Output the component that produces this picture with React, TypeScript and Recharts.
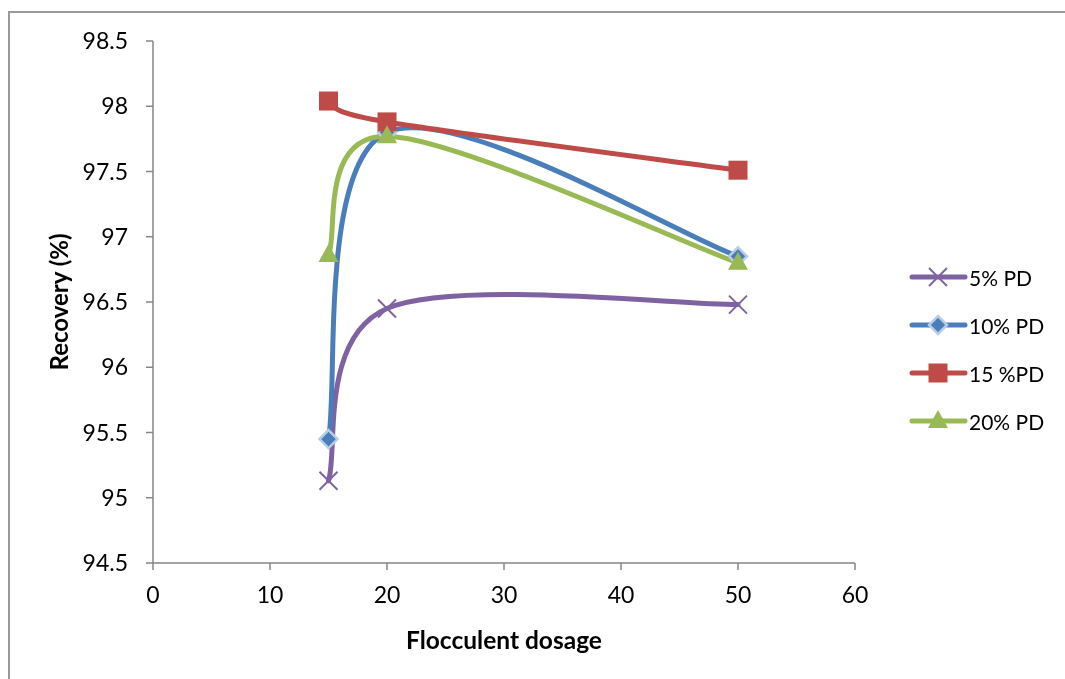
import React from 'react';
import { LineChart, Line, XAxis, YAxis, Legend, Label } from 'recharts';

// dosage (x) and recovery (%) for each pulp density
const dosage = [15, 20, 50];
const pd5 = [95.13, 96.45, 96.48];
const pd10 = [95.45, 97.8, 96.85];
const pd15 = [98.04, 97.88, 97.51];
const pd20 = [96.86, 97.77, 96.8];

const xTicks = [0, 10, 20, 30, 40, 50, 60];
const yTicks = [94.5, 95, 95.5, 96, 96.5, 97, 97.5, 98, 98.5];

const seriesNames = ['5% PD', '10% PD', '15 %PD', '20% PD'];
const seriesKeys = ['pd5', 'pd10', 'pd15', 'pd20'];
const seriesColors = ['#7F62A1', '#4A7EBB', '#BE4B48', '#98B954'];

const data = dosage.map((x, i) => ({
  x,
  pd5: pd5[i],
  pd10: pd10[i],
  pd15: pd15[i],
  pd20: pd20[i],
}));

const FONT = 'Lato, "Open Sans", sans-serif';
const AXIS = '#868686';

// smoothed line like excel's (cardinal bezier through the points)
function smoothCurve(context: any) {
  let pts: number[][] = [];
  return {
    areaStart() {},
    areaEnd() {},
    lineStart() {
      pts = [];
    },
    point(x: number, y: number) {
      pts.push([+x, +y]);
    },
    lineEnd() {
      const n = pts.length;
      if (!n) return;
      context.moveTo(pts[0][0], pts[0][1]);
      for (let i = 0; i < n - 1; i++) {
        const p0 = pts[Math.max(i - 1, 0)];
        const p1 = pts[i];
        const p2 = pts[i + 1];
        const p3 = pts[Math.min(i + 2, n - 1)];
        context.bezierCurveTo(
          p1[0] + (p2[0] - p0[0]) / 6,
          p1[1] + (p2[1] - p0[1]) / 6,
          p2[0] - (p3[0] - p1[0]) / 6,
          p2[1] - (p3[1] - p1[1]) / 6,
          p2[0],
          p2[1]
        );
      }
    },
  };
}

function Marker({ kind, cx, cy }: { kind: number; cx: number; cy: number }) {
  if (kind === 0) {
    return (
      <g stroke={seriesColors[0]} strokeWidth={2}>
        <line x1={cx - 9} y1={cy - 9} x2={cx + 9} y2={cy + 9} />
        <line x1={cx - 9} y1={cy + 9} x2={cx + 9} y2={cy - 9} />
      </g>
    );
  }
  if (kind === 1) {
    return (
      <polygon
        points={`${cx},${cy - 9} ${cx + 9},${cy} ${cx},${cy + 9} ${cx - 9},${cy}`}
        fill={seriesColors[1]}
        stroke="#B9CDE5"
        strokeWidth={2.5}
      />
    );
  }
  if (kind === 2) {
    return <rect x={cx - 9.5} y={cy - 9.5} width={19} height={19} fill={seriesColors[2]} />;
  }
  return (
    <polygon
      points={`${cx},${cy - 11} ${cx + 10},${cy + 7} ${cx - 10},${cy + 7}`}
      fill={seriesColors[3]}
    />
  );
}

const makeDot = (kind: number) => (props: any) =>
  props.cx == null ? (
    <g key={`d${kind}-${props.index}`} />
  ) : (
    <g key={`d${kind}-${props.index}`}>
      <Marker kind={kind} cx={props.cx} cy={props.cy} />
    </g>
  );

function LegendBox() {
  return (
    <div style={{ fontFamily: FONT, fontSize: 21, color: '#000' }}>
      {seriesNames.map((name, i) => (
        <div key={name} style={{ display: 'flex', alignItems: 'center', height: 48 }}>
          <svg width={60} height={26}>
            <line x1={3} y1={13} x2={56} y2={13} stroke={seriesColors[i]} strokeWidth={5} strokeLinecap="round" />
            <Marker kind={i} cx={29} cy={13} />
          </svg>
          <span>{name}</span>
        </div>
      ))}
    </div>
  );
}

export default function App() {
  return (
    <div style={{ position: 'relative', width: 1057, height: 663, background: '#fff' }}>
      {/* chart frame: only its top and left edges are in view */}
      <div
        style={{
          position: 'fixed',
          left: 8,
          top: 11,
          right: -20,
          bottom: -20,
          borderTop: '2px solid #9a9a9a',
          borderLeft: '2px solid #9a9a9a',
        }}
      />
      <div style={{ position: 'absolute', left: 0, top: 0 }}>
        <LineChart
          width={1057}
          height={663}
          data={data}
          margin={{ top: 33, right: 210, bottom: 0, left: 0 }}
        >
          <XAxis
            dataKey="x"
            type="number"
            domain={[0, 60]}
            ticks={xTicks}
            height={108}
            tickSize={7}
            tickMargin={17}
            stroke={AXIS}
            strokeWidth={1.5}
            tick={{ fill: '#000', fontSize: 23, fontFamily: FONT }}
          >
            <Label
              value="Flocculent dosage"
              position="insideBottom"
              offset={22}
              style={{ fontWeight: 700, fontSize: 24.5, fontFamily: FONT, fill: '#000' }}
            />
          </XAxis>
          <YAxis
            type="number"
            domain={[94.5, 98.5]}
            ticks={yTicks}
            width={145}
            tickSize={7}
            tickMargin={18}
            stroke={AXIS}
            strokeWidth={1.5}
            tick={{ fill: '#000', fontSize: 23, fontFamily: FONT }}
          >
            <Label
              value="Recovery (%)"
              angle={-90}
              position="insideLeft"
              offset={51}
              style={{ fontWeight: 700, fontSize: 24, fontFamily: FONT, fill: '#000', textAnchor: 'middle' }}
            />
          </YAxis>
          <Legend
            layout="horizontal"
            verticalAlign="middle"
            align="center"
            wrapperStyle={{ position: 'absolute', left: 901, top: 245, width: 160 }}
            content={() => <LegendBox />}
          />
          {seriesKeys.map((k, i) => (
            <Line
              key={k}
              dataKey={k}
              name={seriesNames[i]}
              type={smoothCurve as any}
              stroke={seriesColors[i]}
              strokeWidth={5}
              strokeLinecap="round"
              dot={makeDot(i)}
              activeDot={false}
              isAnimationActive={false}
            />
          ))}
        </LineChart>
      </div>
    </div>
  );
}
